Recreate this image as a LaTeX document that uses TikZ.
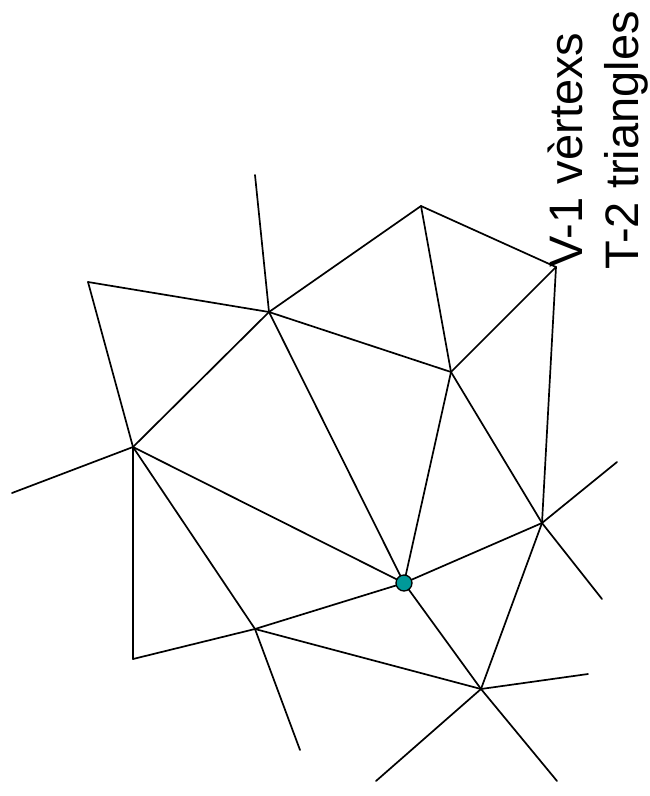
\documentclass[tikz,border=0pt]{standalone}
\usepackage{fontspec}
\setmainfont{Liberation Sans}
\usepackage{tikz}
\usetikzlibrary{calc}
\definecolor{ink}{HTML}{000000}
\definecolor{pick}{HTML}{009999}

\begin{document}
\begin{tikzpicture}[x=1pt,y=-1pt,
  edge/.style={line width=1.7pt,ink,line cap=round,line join=round},
  lbl/.style={rotate=90,anchor=base west,inner sep=0pt,text=ink,font=\fontsize{47}{56}\selectfont}]
\useasboundingbox (0,0) rectangle (650,796);
% mesh points (pixel grid, y running down)
\foreach \n/\x/\y in {a/269/312,b/133/447,c/421/206,d/556/267,e/451/372,f/404/583,g/542/523,h/255/629,i/133/659,j/481/689,p/88/282} {\coordinate (\n) at (\x,\y);}
% loose ends leaving the patch
\foreach \n/\x/\y in {ua/255/175,ub/12/493,ug/617/462,vg/602/599,uh/300/750,uj/588/674,vj/376/781,wj/557/781} {\coordinate (\n) at (\x,\y);}
\foreach \s/\t in {ua/a,p/a,p/b,a/c,a/b,a/e,a/f,c/e,c/d,d/e,d/g,e/f,e/g,b/ub,b/f,b/h,b/i,i/h,h/f,h/j,h/uh,f/g,f/j,g/j,g/ug,g/vg,j/uj,j/vj,j/wj} {\draw[edge] (\s) -- (\t);}
% the vertex that gets removed
\node[circle,draw=ink,fill=pick,line width=1.3pt,inner sep=0pt,minimum size=16pt] (rm) at (f) {};
\node[lbl] (vtx) at (582,268) {V-1 vèrtexs};
\node[lbl] (tri) at (638,270) {T-2 triangles};
\end{tikzpicture}
\end{document}
